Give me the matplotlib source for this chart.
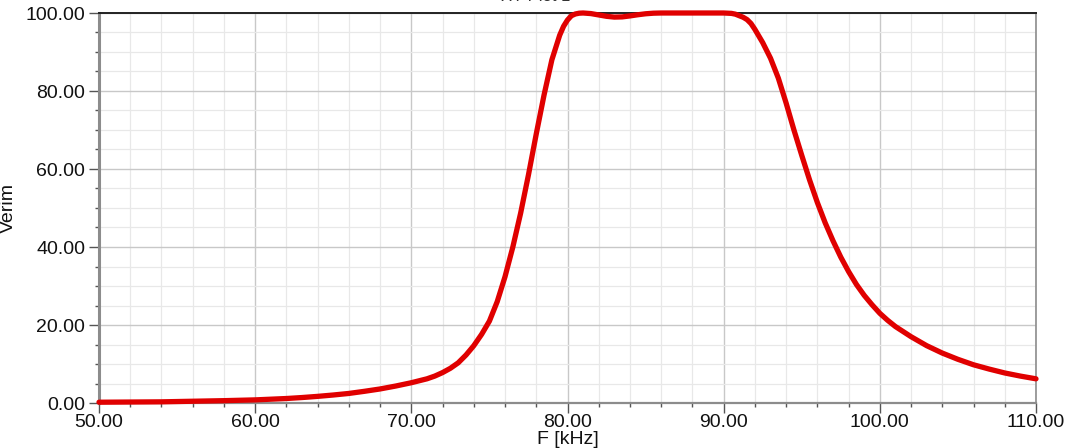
import matplotlib
matplotlib.use("Agg")
import matplotlib.pyplot as plt
from matplotlib.ticker import MultipleLocator, FormatStrFormatter

plt.rcParams['font.family'] = ['Liberation Sans', 'DejaVu Sans']

freq_khz = [50, 52, 54, 56, 58, 60, 62, 63, 64, 65, 66, 67, 68, 69, 70, 71, 71.5, 72,
            72.5, 73, 73.5, 74, 74.5, 75, 75.5, 76, 76.5, 77, 77.5, 78, 78.5, 79, 79.5,
            79.75, 80, 80.25, 80.5, 80.75, 81, 81.5, 82, 82.5, 83, 83.5, 84, 84.5, 85,
            85.5, 86, 88, 90, 90.5, 90.75, 91, 91.25, 91.5, 91.75, 92, 92.5, 93, 93.5,
            94, 94.5, 95, 95.5, 96, 96.5, 97, 97.5, 98, 98.5, 99, 99.5, 100, 100.5, 101,
            102, 103, 104, 105, 106, 107, 108, 109, 110]
verim = [0.2, 0.25, 0.3, 0.45, 0.6, 0.8, 1.15, 1.4, 1.7, 2.05, 2.45, 3.0, 3.6, 4.35,
         5.2, 6.2, 6.9, 7.8, 8.9, 10.3, 12.3, 14.7, 17.6, 21.0, 26.0, 32.4, 40.0,
         48.7, 58.5, 69.0, 79.0, 88.0, 94.3, 96.6, 98.2, 99.3, 99.75, 99.95, 100.0,
         99.85, 99.5, 99.15, 98.95, 99.0, 99.25, 99.55, 99.8, 99.95, 100.0, 100.0,
         100.0, 99.9, 99.7, 99.3, 98.9, 98.3, 97.3, 95.8, 92.4, 88.4, 83.3, 76.9,
         70.0, 63.5, 57.2, 51.4, 46.2, 41.6, 37.4, 33.7, 30.4, 27.6, 25.2, 23.0, 21.2,
         19.6, 17.0, 14.7, 12.8, 11.2, 9.8, 8.7, 7.7, 6.9, 6.2]

title_text = "XY Plot 1"
x_label = "F [kHz]"
y_label = "Verim"

fig = plt.figure(figsize=(10.75, 4.48), dpi=100)
ax = fig.add_axes([99/1075, 1 - 403/448, (1036-99)/1075, (403-13)/448])

ax.plot(freq_khz, verim, color='#e00000', lw=3.8, solid_capstyle='round',
        solid_joinstyle='round', zorder=3, clip_on=False)

ax.set_xlim(50, 110)
ax.set_ylim(0, 100)
ax.xaxis.set_major_locator(MultipleLocator(10))
ax.xaxis.set_minor_locator(MultipleLocator(2))
ax.yaxis.set_major_locator(MultipleLocator(20))
ax.yaxis.set_minor_locator(MultipleLocator(5))
ax.xaxis.set_major_formatter(FormatStrFormatter('%.2f'))
ax.yaxis.set_major_formatter(FormatStrFormatter('%.2f'))

ax.grid(which='major', color='#c8c8c8', lw=1.0)
ax.grid(which='minor', color='#e8e8e8', lw=0.9)
ax.set_axisbelow(True)

for side in ['left', 'bottom', 'right']:
    ax.spines[side].set_color('#8c8c8c')
ax.spines['left'].set_linewidth(2.2)
ax.spines['bottom'].set_linewidth(1.6)
ax.spines['right'].set_linewidth(1.2)
ax.spines['top'].set_color('#222222')
ax.spines['top'].set_linewidth(1.4)

ax.tick_params(axis='both', which='major', direction='out', length=7, width=1,
               color='#555555', labelsize=14, labelcolor='#111111')
ax.tick_params(axis='both', which='minor', direction='out', length=3, width=1,
               color='#555555')
ax.tick_params(axis='x', which='major', pad=1)
ax.tick_params(axis='y', which='major', pad=3)

ax.set_xlabel(x_label, fontsize=14, color='#111111', labelpad=0)
ax.set_ylabel(y_label, fontsize=14, color='#111111', labelpad=6)

fig.text(0.498, 1.008, title_text, ha='center', va='center', fontsize=12, color='#333333')

fig.savefig('out.png', dpi=100)
